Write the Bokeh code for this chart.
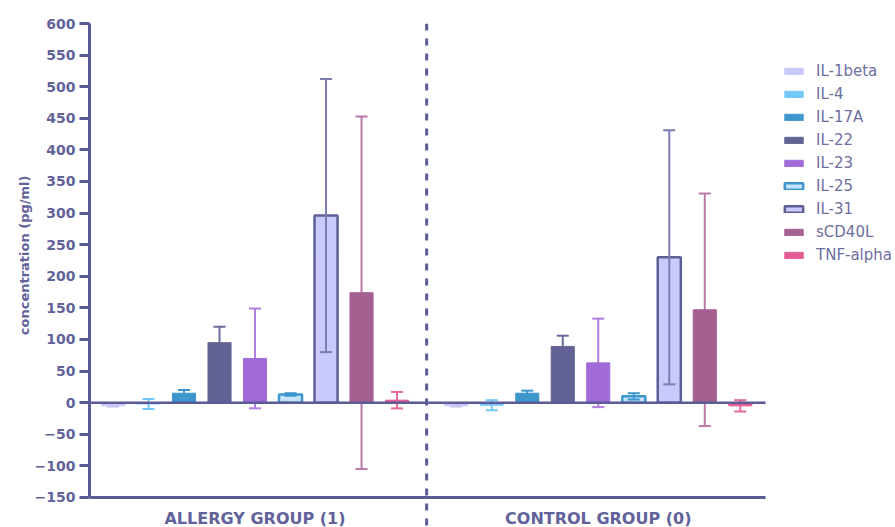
import numpy as np
from bokeh.plotting import figure
from bokeh.models import ColumnDataSource, Range1d, FixedTicker, Span, Legend, LegendItem, Title
from bokeh.core.properties import value
from bokeh.embed import file_html
from bokeh.resources import INLINE

# ---- data -------------------------------------------------------------
cytokines = ["IL-1beta", "IL-4", "IL-17A", "IL-22", "IL-23", "IL-25", "IL-31", "sCD40L", "TNF-alpha"]
groups = ["ALLERGY GROUP (1)", "CONTROL GROUP (0)"]

allergy_mean = [-5, -2, 15, 95, 70, 13, 296, 174, 4]
allergy_sd = [1, 8, 5, 25, 79, 2, 216, 279, 13]
control_mean = [-5, -4, 15, 89, 63, 10, 230, 147, -5]
control_sd = [1, 8, 4, 17, 70, 5, 201, 184, 9]

y_ticks = list(range(-150, 601, 50))

# ---- styling ----------------------------------------------------------
fill_colors = ["#c8c8fb", "#72c8f7", "#3d96cc", "#626394", "#a06bd8",
               "#c6e4f7", "#c9c9fc", "#a46091", "#e45c92"]
line_colors = ["#c8c8fb", "#72c8f7", "#3d96cc", "#626394", "#a06bd8",
               "#3d96cc", "#5f5f98", "#a46091", "#e45c92"]
whisker_colors = ["#c0c0f0", "#72c8f7", "#3d96cc", "#6a6a9c", "#b07fe0",
                  "#3d96cc", "#7c7cb2", "#b97aa9", "#e86a9c"]
outlined = {"IL-25", "IL-31"}

AXIS = "#5b5b96"
TEXT = "#62629b"
FONT = "DejaVu Sans"

BAR_W = 0.65
CAP_W = 0.34
GROUP_OFFSET = 9.668          # x offset of the second group of bars
X_START, X_END = -0.662, 22.04
AXIS_X_END = 18.38            # where the horizontal axis lines stop
Y_START, Y_END = -197.5, 600

p = figure(width=895, height=527, output_backend="svg", toolbar_location=None,
           x_range=Range1d(X_START, X_END), y_range=Range1d(Y_START, Y_END),
           x_axis_location=None, min_border_left=89, min_border_right=0,
           min_border_top=23, min_border_bottom=0)
p.outline_line_color = None
p.xgrid.visible = False
p.ygrid.visible = False
p.background_fill_color = "white"
p.border_fill_color = "white"

# y axis
yax = p.yaxis[0]
yax.ticker = FixedTicker(ticks=y_ticks)
yax.bounds = (-150, 600)
yax.axis_line_color = AXIS
yax.axis_line_width = 3
yax.major_tick_line_color = AXIS
yax.major_tick_line_width = 3
yax.major_tick_out = 10
yax.major_tick_in = 0
yax.minor_tick_line_color = None
yax.major_label_standoff = 4
yax.major_label_text_font = FONT
yax.major_label_text_font_style = "bold"
yax.major_label_text_font_size = "14px"
yax.major_label_text_color = TEXT

# ---- bars with SD whiskers --------------------------------------------
items = []
for i, name in enumerate(cytokines):
    xs = np.array([i, GROUP_OFFSET + i], dtype=float)
    means = np.array([allergy_mean[i], control_mean[i]], dtype=float)
    sds = np.array([allergy_sd[i], control_sd[i]], dtype=float)
    src = ColumnDataSource(dict(
        x=xs, top=means, lower=means - sds, upper=means + sds,
        cl=xs - CAP_W / 2, cr=xs + CAP_W / 2))

    def whiskers():
        kw = dict(source=src, line_color=whisker_colors[i], line_width=2)
        p.segment(x0="x", y0="lower", x1="x", y1="upper", **kw)
        p.segment(x0="cl", y0="upper", x1="cr", y1="upper", **kw)
        p.segment(x0="cl", y0="lower", x1="cr", y1="lower", **kw)

    if name not in outlined:
        whiskers()
    bar = p.vbar(x="x", top="top", bottom=0, width=BAR_W, source=src,
                 fill_color=fill_colors[i], line_color=line_colors[i],
                 line_width=2.5 if name in outlined else 1)
    if name in outlined:
        whiskers()
    items.append(LegendItem(label=name, renderers=[bar]))

# zero line, bottom axis line and group divider
p.segment(x0=[X_START, X_START], y0=[0, -150], x1=[AXIS_X_END, AXIS_X_END], y1=[0, -150],
          line_color=AXIS, line_width=[2.5, 3])
divider = (8 + GROUP_OFFSET) / 2
p.add_layout(Span(location=divider, dimension="height", line_color=AXIS,
                  line_width=3, line_dash="7 8"))

# group labels
p.text(x=[4, GROUP_OFFSET + 4], y=[-183.7, -183.7], text=groups,
       text_align="center", text_baseline="middle",
       text_font=value(FONT), text_font_style="bold", text_font_size="16px",
       text_color=TEXT)

# y axis title, placed in the left panel next to the tick labels
p.add_layout(Title(text="concentration (pg/ml)", align="right", offset=152,
                   standoff=0, text_font=FONT, text_font_style="bold",
                   text_font_size="13px", text_color=TEXT), "left")

legend = Legend(items=items, location=(693, 262), glyph_width=23, glyph_height=8,
                label_height=20, spacing=3, padding=0, margin=0, label_standoff=11,
                border_line_color=None, background_fill_alpha=0,
                label_text_font=FONT, label_text_font_size="15px",
                label_text_color="#6e6ea0")
p.add_layout(legend)

open("out.html", "w").write(file_html(p, INLINE))
